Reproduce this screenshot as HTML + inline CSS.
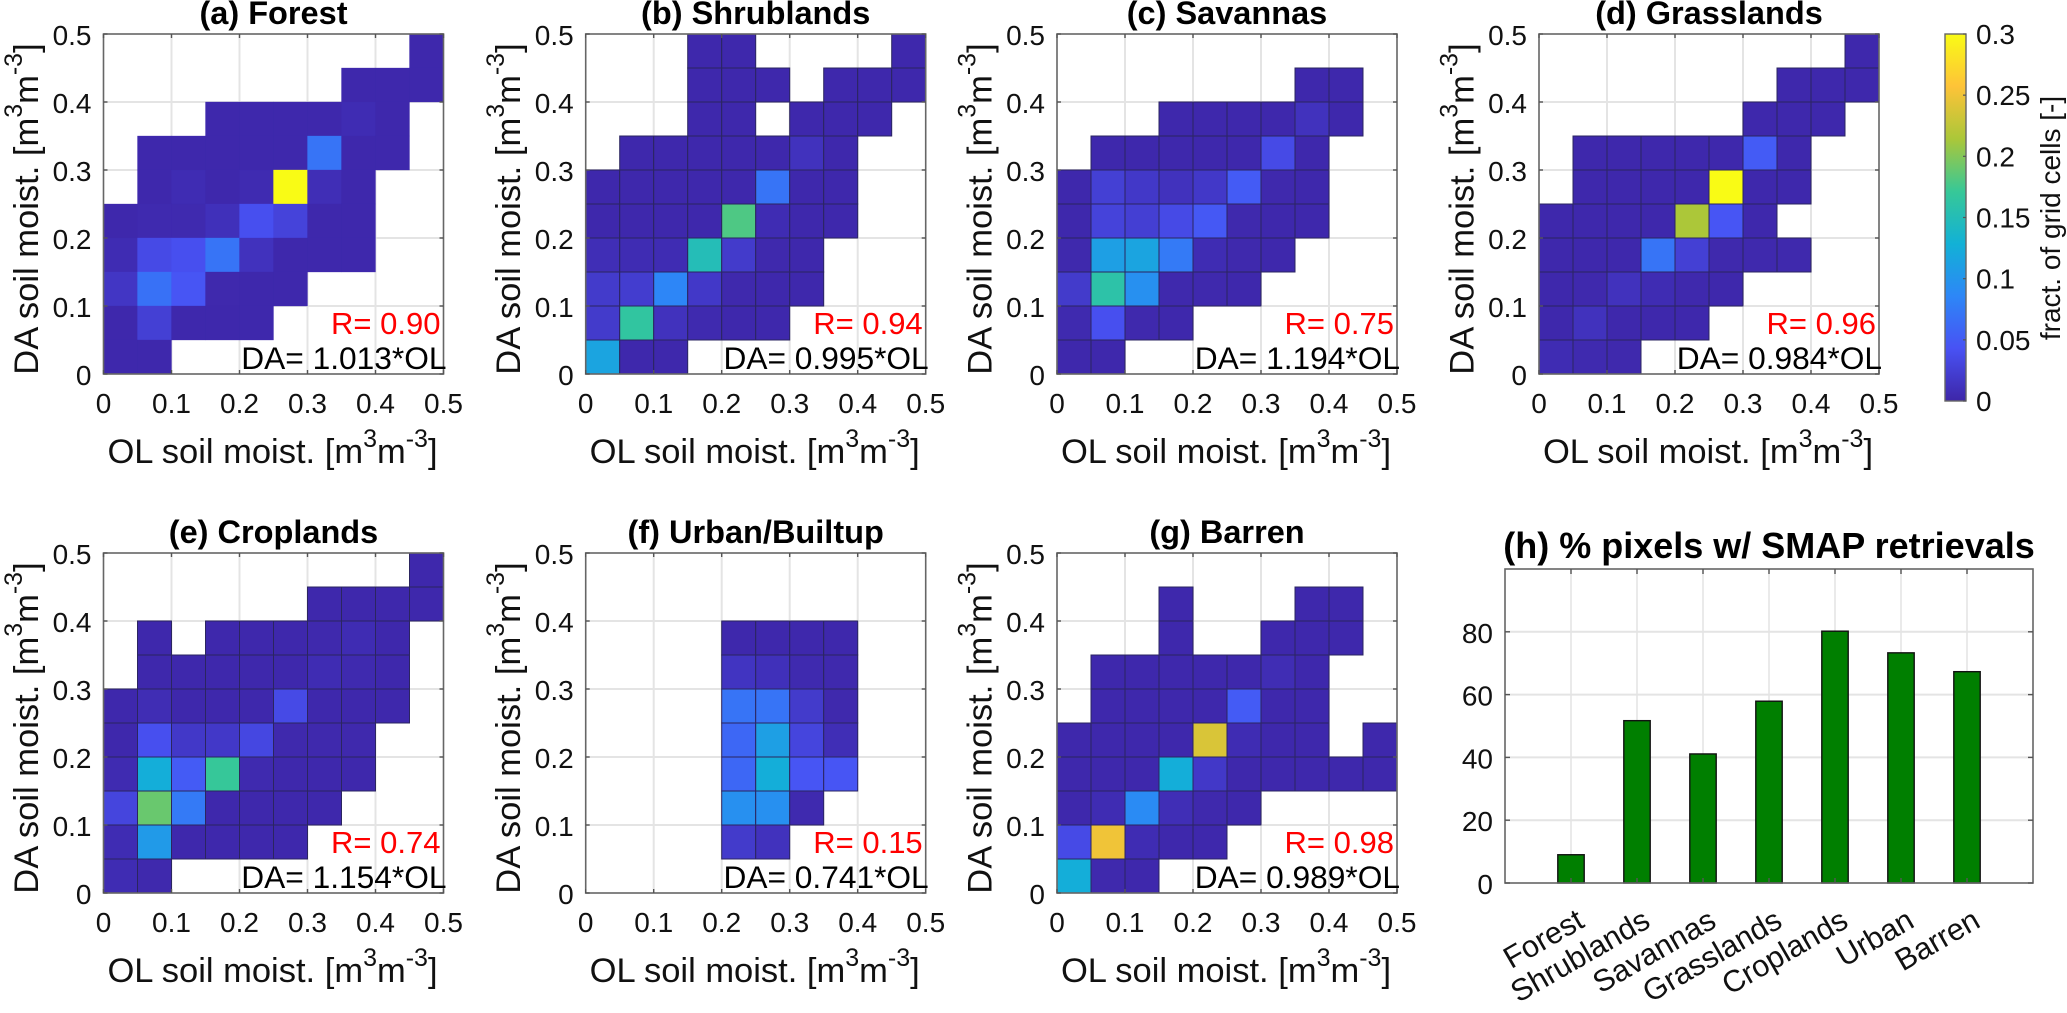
<!DOCTYPE html>
<html lang="en">
<head>
<meta charset="utf-8">
<title>Soil moisture DA vs OL by land cover</title>
<style>
html,body{margin:0;padding:0;background:#fff;}
#figure{display:block;width:2067px;height:1013px;}
text{font-family:"Liberation Sans",Arial,sans-serif;fill:#111;}
</style>
</head>
<body>
<svg id="figure" xmlns="http://www.w3.org/2000/svg" width="2067" height="1013" viewBox="0 0 2067 1013"></svg>
<script>
var _ = null;

/* Heatmap values: fraction of grid cells. Rows run top (DA 0.45-0.5) to bottom (DA 0-0.05), columns OL 0 to 0.5. */
var forestCells = [
  [_,_,_,_,_,_,_,_,_,.002],
  [_,_,_,_,_,_,_,.002,.002,.002],
  [_,_,_,.002,.002,.002,.002,.006,.002,_],
  [_,.002,.002,.002,.002,.002,.07,.002,.002,_],
  [_,.002,.006,.002,.005,.3,.008,.002,_,_],
  [.002,.004,.004,.01,.04,.028,.002,.002,_,_],
  [.006,.035,.04,.07,.012,.002,.002,.002,_,_],
  [.016,.068,.045,.003,.002,.002,_,_,_,_],
  [.002,.025,.002,.002,.002,_,_,_,_,_],
  [.002,.002,_,_,_,_,_,_,_,_]
];
var shrublandCells = [
  [_,_,_,.002,.002,_,_,_,_,.002],
  [_,_,_,.002,.002,.002,_,.002,.002,.002],
  [_,_,_,.002,.002,_,.002,.002,.002,_],
  [_,.002,.002,.002,.002,.002,.012,.002,_,_],
  [.002,.002,.002,.002,.002,.07,.002,.002,_,_],
  [.002,.002,.002,.002,.18,.006,.002,.002,_,_],
  [.008,.006,.006,.15,.02,.003,.002,_,_,_],
  [.02,.022,.085,.018,.003,.002,.002,_,_,_],
  [.02,.165,.012,.004,.002,.002,_,_,_,_],
  [.115,.002,.002,_,_,_,_,_,_,_]
];
var savannaCells = [
  [_,_,_,_,_,_,_,_,_,_],
  [_,_,_,_,_,_,_,.002,.002,_],
  [_,_,_,.002,.002,.002,.002,.012,.002,_],
  [_,.002,.002,.002,.002,.002,.035,.002,_,_],
  [.002,.025,.018,.012,.018,.05,.003,.002,_,_],
  [.002,.028,.024,.035,.048,.003,.002,.002,_,_],
  [.003,.11,.115,.075,.006,.003,.002,_,_,_],
  [.02,.16,.095,.003,.003,.002,_,_,_,_],
  [.004,.04,.003,.002,_,_,_,_,_,_],
  [.002,.002,_,_,_,_,_,_,_,_]
];
var grasslandCells = [
  [_,_,_,_,_,_,_,_,_,.002],
  [_,_,_,_,_,_,_,.002,.002,.002],
  [_,_,_,_,_,_,.002,.002,.002,_],
  [_,.002,.002,.002,.002,.002,.05,.002,_,_],
  [_,.002,.002,.002,.002,.3,.002,.002,_,_],
  [.002,.002,.002,.002,.215,.045,.002,_,_,_],
  [.002,.002,.002,.07,.025,.003,.003,.003,_,_],
  [.002,.003,.012,.006,.003,.002,_,_,_,_],
  [.002,.012,.002,.002,.002,_,_,_,_,_],
  [.006,.004,.003,_,_,_,_,_,_,_]
];
var croplandCells = [
  [_,_,_,_,_,_,_,_,_,.002],
  [_,_,_,_,_,_,.002,.002,.002,.002],
  [_,.002,_,.002,.002,.002,.003,.006,.002,_],
  [_,.002,.002,.002,.002,.002,.006,.004,.002,_],
  [.002,.007,.002,.002,.002,.035,.002,.002,.002,_],
  [.002,.04,.018,.018,.032,.003,.003,.003,_,_],
  [.005,.125,.05,.17,.004,.002,.002,.002,_,_],
  [.03,.19,.075,.002,.002,.002,.002,_,_,_],
  [.006,.105,.002,.002,.002,.002,_,_,_,_],
  [.006,.003,_,_,_,_,_,_,_,_]
];
var urbanCells = [
  [_,_,_,_,_,_,_,_,_,_],
  [_,_,_,_,_,_,_,_,_,_],
  [_,_,_,_,.002,.002,.002,.002,_,_],
  [_,_,_,_,.014,.01,.004,.003,_,_],
  [_,_,_,_,.07,.07,.02,.003,_,_],
  [_,_,_,_,.06,.11,.03,.008,_,_],
  [_,_,_,_,.06,.125,.045,.045,_,_],
  [_,_,_,_,.095,.095,.004,_,_,_],
  [_,_,_,_,.02,.012,_,_,_,_],
  [_,_,_,_,_,_,_,_,_,_]
];
var barrenCells = [
  [_,_,_,_,_,_,_,_,_,_],
  [_,_,_,.002,_,_,_,.002,.002,_],
  [_,_,_,.002,_,_,.002,.002,.002,_],
  [_,.002,.002,.002,.002,.002,.007,.002,_,_],
  [_,.002,.002,.002,.002,.05,.002,.002,_,_],
  [.002,.002,.002,.002,.238,.006,.002,.002,_,.002],
  [.002,.002,.002,.125,.018,.002,.002,.002,.002,.002],
  [.002,.006,.09,.008,.003,.002,_,_,_,_],
  [.035,.25,.006,.002,.002,_,_,_,_,_],
  [.125,.003,.002,_,_,_,_,_,_,_]
];

/* Panel text */
var panelTitles = ["(a) Forest","(b) Shrublands","(c) Savannas","(d) Grasslands","(e) Croplands","(f) Urban/Builtup","(g) Barren"];
var panelR = ["R= 0.90","R= 0.94","R= 0.75","R= 0.96","R= 0.74","R= 0.15","R= 0.98"];
var panelFit = ["DA= 1.013*OL","DA= 0.995*OL","DA= 1.194*OL","DA= 0.984*OL","DA= 1.154*OL","DA= 0.741*OL","DA= 0.989*OL"];
var panelKeys = ["forest","shrublands","savannas","grasslands","croplands","urban","barren"];

/* Axis ticks */
var moistureTicks = [0,0.1,0.2,0.3,0.4,0.5];
var moistureTickLabels = ["0","0.1","0.2","0.3","0.4","0.5"];
var colorbarTicks = [0,0.05,0.1,0.15,0.2,0.25,0.3];
var colorbarTickLabels = ["0","0.05","0.1","0.15","0.2","0.25","0.3"];

/* Bar chart (h) */
var barCategories = ["Forest","Shrublands","Savannas","Grasslands","Croplands","Urban","Barren"];
var barValues = [9,51.7,41.1,57.9,80.2,73.3,67.3];
var barTicks = [0,20,40,60,80];

/* Parula colour anchors */
var parula = [[62,38,168],[72,82,244],[45,135,247],[18,177,214],[55,200,151],[171,199,57],[254,195,56],[249,251,21]];

var NS = "http://www.w3.org/2000/svg";
var svg = document.getElementById("figure");
var CMAX = 0.3, BIN = 0.05, AXSIZE = 340, AXMAX = 0.5;

function node(tag, parent, props) {
  var e = document.createElementNS(NS, tag);
  for (var k in props) e.setAttribute(k, props[k]);
  parent.appendChild(e);
  return e;
}
function color(v) {
  var t = Math.max(0, Math.min(1, v / CMAX)) * (parula.length - 1);
  var i = Math.min(parula.length - 2, Math.floor(t)), f = t - i;
  var c = parula[i].map(function (a, j) { return Math.round(a + (parula[i + 1][j] - a) * f); });
  return "rgb(" + c.join(",") + ")";
}
function moistureXScale(left) { return function (v) { return left + v / AXMAX * AXSIZE; }; }
function moistureYScale(top) { return function (v) { return top + AXSIZE - v / AXMAX * AXSIZE; }; }

var SOIL_LABEL_TAIL = '<tspan dy="-16" font-size="25">3</tspan><tspan dy="16">m</tspan><tspan dy="-16" font-size="25">-3</tspan><tspan dy="16">]</tspan>';

function drawPanel(cells, idx, left, top, edged) {
  var x = moistureXScale(left), y = moistureYScale(top);
  var g = node("g", svg, {});
  
  

  node("rect", g, {x: left, y: top, width: AXSIZE, height: AXSIZE, fill: "#fff"});

  moistureTicks.forEach(function (t) {
    if (t === 0 || t === AXMAX) return;
    var gv = node("line", g, {x1: x(t), x2: x(t), y1: top, y2: top + AXSIZE, stroke: "#e4e4e4", "stroke-width": 2});
    
    
    var gh = node("line", g, {x1: left, x2: left + AXSIZE, y1: y(t), y2: y(t), stroke: "#e4e4e4", "stroke-width": 2});
    
    
  });

  cells.forEach(function (row, r) {
    var lowY = (cells.length - 1 - r) * BIN;
    row.forEach(function (v, c) {
      if (v === null) return;
      var lowX = c * BIN;
      var attrs = {x: x(lowX), y: y(lowY + BIN), width: x(lowX + BIN) - x(lowX), height: y(lowY) - y(lowY + BIN), fill: color(v)};
      if (edged) { attrs.stroke = "#2b2560"; attrs["stroke-width"] = 1; }
      else { attrs.stroke = color(v); attrs["stroke-width"] = 0.3; }
      var cell = node("rect", g, attrs);
      
      
    });
  });

  var box = node("rect", g, {x: left, y: top, width: AXSIZE, height: AXSIZE, fill: "none", stroke: "#666", "stroke-width": 1.6});
  
  

  moistureTicks.forEach(function (t, i) {
    [[x(t), top + AXSIZE, x(t), top + AXSIZE - 4], [x(t), top, x(t), top + 4], [left, y(t), left + 4, y(t)], [left + AXSIZE, y(t), left + AXSIZE - 4, y(t)]].forEach(function (p) {
      var tk = node("line", g, {x1: p[0], y1: p[1], x2: p[2], y2: p[3], stroke: "#555", "stroke-width": 1.4});
      
      
    });
    var xl = node("text", g, {x: x(t), y: top + AXSIZE + 39, "font-size": 28, "text-anchor": "middle"});
    
    
    xl.textContent = moistureTickLabels[i];
    var yl = node("text", g, {x: left - 12, y: y(t) + 11, "font-size": 28, "text-anchor": "end"});
    
    
    yl.textContent = moistureTickLabels[i];
  });

  var title = node("text", g, {x: left + AXSIZE / 2, y: top - 10, "font-size": 32.5, "font-weight": "bold", "text-anchor": "middle", style: "fill:#000"});
  
  
  title.textContent = panelTitles[idx];

  var xt = node("text", g, {x: left + AXSIZE / 2 - 1, y: top + AXSIZE + 89, "font-size": 34.5, "text-anchor": "middle"});
  
  
  xt.innerHTML = 'OL soil moist. [m' + SOIL_LABEL_TAIL;

  var cy = top + 175, bx = left - 65.5;
  var yt = node("text", g, {x: bx, y: cy, "font-size": 34.5, "text-anchor": "middle", transform: "rotate(-90 " + bx + " " + cy + ")"});
  
  
  yt.innerHTML = 'DA soil moist. [m' + SOIL_LABEL_TAIL;

  var rt = node("text", g, {x: left + AXSIZE - 3, y: top + 300, "font-size": 31, "text-anchor": "end", style: "fill:#ff0000"});
  
  
  rt.textContent = panelR[idx];

  var ft = node("text", g, {x: left + AXSIZE + 3, y: top + 335, "font-size": 31.7, "text-anchor": "end", style: "fill:#000"});
  
  
  ft.textContent = panelFit[idx];
}

drawPanel(forestCells, 0, 103.5, 34, false);
drawPanel(shrublandCells, 1, 585.7, 34, true);
drawPanel(savannaCells, 2, 1057, 34, true);
drawPanel(grasslandCells, 3, 1539, 34, true);
drawPanel(croplandCells, 4, 103.5, 553, true);
drawPanel(urbanCells, 5, 585.7, 553, true);
drawPanel(barrenCells, 6, 1057, 553, true);

/* Colorbar */
(function () {
  var cbLeft = 1945, cbW = 21, cbTop = 34, cbBot = 401;
  var cbY = function (v) { return cbBot - v / CMAX * (cbBot - cbTop); };
  var g = node("g", svg, {});
  
  
  var defs = node("defs", g, {});
  var grad = node("linearGradient", defs, {id: "parulaGrad", x1: 0, y1: 1, x2: 0, y2: 0});
  parula.forEach(function (c, i) {
    node("stop", grad, {offset: i / (parula.length - 1), "stop-color": "rgb(" + c.join(",") + ")"});
  });
  var bar = node("rect", g, {x: cbLeft, y: cbTop, width: cbW, height: cbBot - cbTop, fill: "url(#parulaGrad)", stroke: "#666", "stroke-width": 1.4});
  
  
  colorbarTicks.forEach(function (t, i) {
    var tk = node("line", g, {x1: cbLeft + cbW, x2: cbLeft + cbW - 3, y1: cbY(t), y2: cbY(t), stroke: "#555", "stroke-width": 1.2});
    
    
    var lb = node("text", g, {x: 1976, y: cbY(t) + 10, "font-size": 28});
    
    
    lb.textContent = colorbarTickLabels[i];
  });
  var lbl = node("text", g, {x: 2060, y: 218, "font-size": 28, "text-anchor": "middle", transform: "rotate(-90 2060 218)"});
  
  
  lbl.textContent = "fract. of grid cells [-]";
})();

/* Bar chart */
(function () {
  var left = 1505, right = 2033, top = 569, bottom = 883;
  var x = function (i) { return left + (right - left) * i / 8; };
  var y = function (v) { return bottom - (bottom - top) * v / 100; };
  var g = node("g", svg, {});
  
  

  barCategories.forEach(function (c, i) {
    var gl = node("line", g, {x1: x(i + 1), x2: x(i + 1), y1: top, y2: bottom, stroke: "#e4e4e4", "stroke-width": 1.6});
    
    
  });
  barTicks.forEach(function (t) {
    if (t === 0) return;
    var gl = node("line", g, {x1: left, x2: right, y1: y(t), y2: y(t), stroke: "#e4e4e4", "stroke-width": 2});
    
    
  });

  barValues.forEach(function (v, i) {
    var bw = (right - left) / 8 * 0.4;
    var b = node("rect", g, {x: x(i + 1) - bw / 2, y: y(v), width: bw, height: bottom - y(v), fill: "#007f00", stroke: "#111", "stroke-width": 1.4});
    
    
  });

  var box = node("rect", g, {x: left, y: top, width: right - left, height: bottom - top, fill: "none", stroke: "#666", "stroke-width": 1.6});
  
  

  barCategories.forEach(function (c, i) {
    var px = x(i + 1);
    [[bottom, bottom - 5], [top, top + 5]].forEach(function (p) {
      var tk = node("line", g, {x1: px, x2: px, y1: p[0], y2: p[1], stroke: "#555", "stroke-width": 1.4});
      
      
    });
    var ax = px + 15, ay = bottom + 43;
    var lb = node("text", g, {x: ax, y: ay, "font-size": 30.5, "text-anchor": "end", transform: "rotate(-30 " + ax + " " + ay + ")"});
    
    
    lb.textContent = c;
  });
  barTicks.forEach(function (t) {
    [[left, left + 5], [right, right - 5]].forEach(function (p) {
      var tk = node("line", g, {x1: p[0], x2: p[1], y1: y(t), y2: y(t), stroke: "#555", "stroke-width": 1.4});
      
      
    });
    var lb = node("text", g, {x: left - 12, y: y(t) + 11, "font-size": 28, "text-anchor": "end"});
    
    
    lb.textContent = String(t);
  });
  var ti = node("text", g, {x: 1769, y: 558, "font-size": 36, "font-weight": "bold", "text-anchor": "middle", style: "fill:#000"});
  
  
  ti.textContent = "(h) % pixels w/ SMAP retrievals";
})();
</script>
</body>
</html>
